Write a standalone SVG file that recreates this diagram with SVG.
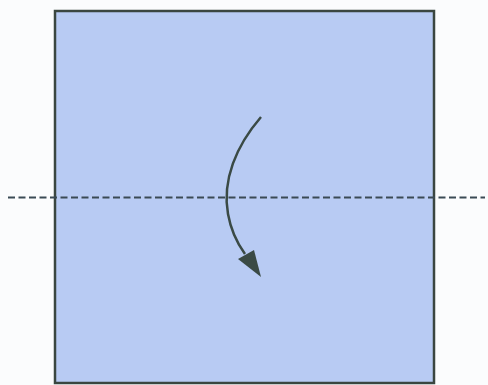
<svg xmlns="http://www.w3.org/2000/svg" width="488" height="385" viewBox="0 0 488 385">
<style>
.paper{fill:#b8cbf3;stroke:#3a4640;stroke-width:2.5}
.fold{fill:none;stroke:#3a4a55;stroke-width:2.2;stroke-dasharray:7,3.5}
.arrow{fill:none;stroke:#3a4a45;stroke-width:2.5}
.head{fill:#3a4a45}
</style>
<rect width="488" height="385" fill="#fbfcfd"/>
<g id="paper"><rect class="paper" x="55" y="11" width="379" height="372"/></g>
<g id="connectors">
<line class="fold" x1="8" y1="197.5" x2="485" y2="197.5"/>
<path class="arrow" d="M261,117 C236,146 222,180 228,214 C231,231 237,243 245,254"/>
<polygon class="head" points="238,259 254,250 261,277"/>
</g>
</svg>
